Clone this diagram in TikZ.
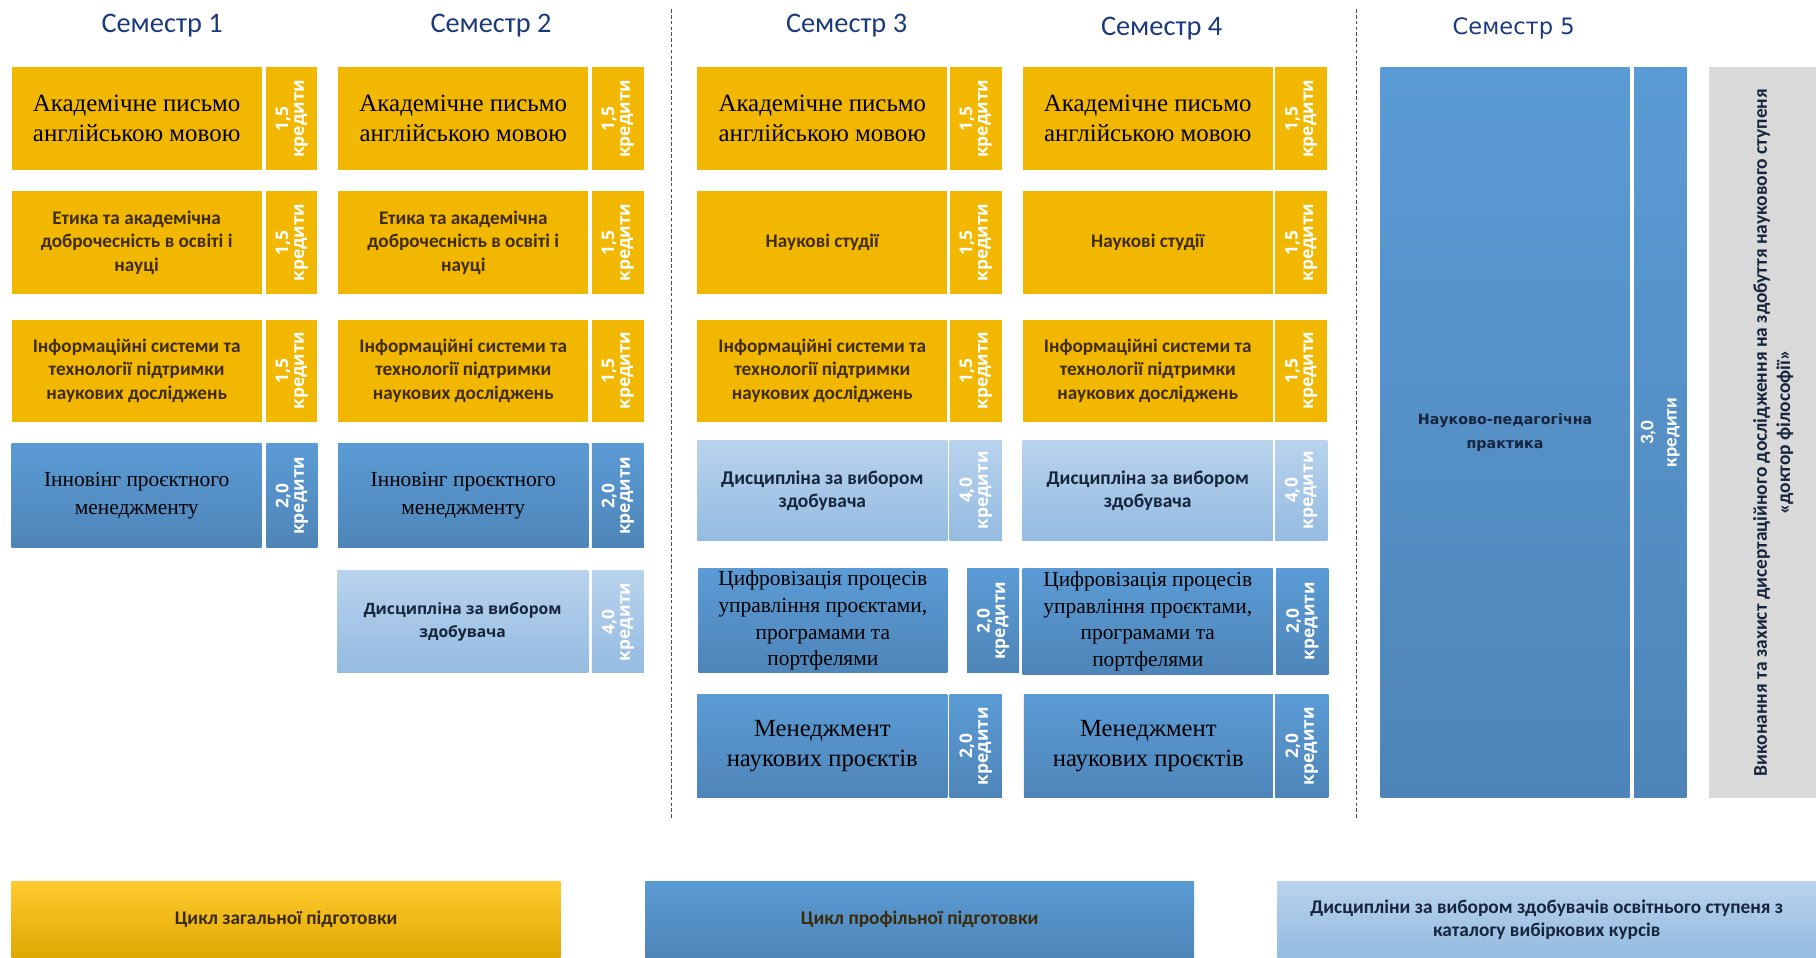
\documentclass[tikz,border=0pt]{standalone}
\usepackage{fontspec}
\setmainfont{Liberation Serif}
\newfontfamily\calfont{Carlito}
\newfontfamily\osfont{Open Sans}
\newfontfamily\dvfont{DejaVu Sans}
\definecolor{gold}{HTML}{F2B700}
\definecolor{goldtxt}{HTML}{3F2C00}
\definecolor{blueT}{HTML}{5B9BD5}
\definecolor{blueB}{HTML}{4E85B8}
\definecolor{ltT}{HTML}{B9D3ED}
\definecolor{ltB}{HTML}{94BBE1}
\definecolor{navy}{HTML}{1B3A7B}
\definecolor{navytxt}{HTML}{16243C}
\definecolor{greybox}{HTML}{D9D9D9}
\definecolor{legYT}{HTML}{FFCB2F}
\definecolor{legYB}{HTML}{DFA700}
\definecolor{legtxt}{HTML}{3A2A08}
\newcommand{\crsnode}[7]{\node[#2,minimum width=#5pt,minimum height=#6pt] (#1) at (#3,#4) {#7};}
\newcommand{\crdnode}[7]{\node[#2,minimum width=#6pt,minimum height=#5pt] (#1) at (#3,#4) {#7};}
\tikzset{
  boxbase/.style={inner sep=0pt, outer sep=0pt, align=center, draw=none},
  goldbox/.style={boxbase, fill=gold},
  bluebox/.style={boxbase, top color=blueT, bottom color=blueB},
  lbluebox/.style={boxbase, top color=ltT, bottom color=ltB},
  serifA/.style={font=\fontsize{21.5}{26}\selectfont, text=black},
  serifB/.style={font=\fontsize{18.5}{24}\selectfont, text=black},
  serifC/.style={font=\fontsize{18.5}{23}\selectfont, text=black},
  serifD/.style={font=\fontsize{21.3}{26}\selectfont, text=black},
  sansY/.style={font=\calfont\bfseries\fontsize{16.6}{20.5}\selectfont, text=goldtxt},
  sansL/.style={font=\osfont\bfseries\fontsize{13.5}{20}\selectfont, text=navytxt},
  sansLc/.style={font=\calfont\bfseries\fontsize{16.8}{20}\selectfont, text=navytxt},
  crbase/.style={boxbase, rotate=90, text=white, font=\osfont\bfseries\fontsize{15}{13.5}\selectfont},
  crgold/.style={crbase, fill=gold},
  crblue/.style={crbase, top color=blueT, bottom color=blueB},
  crlblue/.style={crbase, top color=ltT, bottom color=ltB},
  semtitle/.style={font=\calfont\fontsize{24.5}{28}\selectfont, text=navy, inner sep=0pt},
  legbox/.style={boxbase, font=\calfont\bfseries\fontsize{16.7}{20}\selectfont},
  sepline/.style={draw=black!70, line width=0.7pt, dash pattern=on 3pt off 2pt},
}
\begin{document}
\begin{tikzpicture}[x=1pt,y=-1pt]
\useasboundingbox (0,0) rectangle (1568,827);
% titles
\node[semtitle] (s1) at (140,22) {Семестр 1};
\node[semtitle] (s2) at (424,22) {Семестр 2};
\node[semtitle] (s3) at (731,22) {Семестр 3};
\node[semtitle] (s4) at (1003,25) {Семестр 4};
\node[semtitle, font=\dvfont\fontsize{19.5}{24}\selectfont] (s5) at (1307,25) {Семестр 5};
% separators
\coordinate (v1t) at (580,8); \coordinate (v1b) at (580,707);
\coordinate (v2t) at (1171,8); \coordinate (v2b) at (1171,707);
\draw[sepline] (v1t) -- (v1b);
\draw[sepline] (v2t) -- (v2b);
% ---------- Semester 1
\crsnode{a1}{goldbox,serifA}{118}{102.5}{216}{89}{Академічне письмо\\англійською мовою}
\crsnode{a2}{goldbox,sansY}{118}{209.5}{216}{89}{Етика та академічна\\доброчесність в освіті і\\науці}
\crsnode{a3}{goldbox,sansY}{118}{320}{216}{88}{Інформаційні системи та\\технології підтримки\\наукових досліджень}
\crsnode{a4}{bluebox,serifB}{118}{428}{216}{90}{Інновінг проєктного\\менеджменту}
\crdnode{a1c}{crgold}{252}{102.5}{44}{89}{1,5\\кредити}
\crdnode{a2c}{crgold}{252}{209.5}{44}{89}{1,5\\кредити}
\crdnode{a3c}{crgold}{252}{320}{44}{88}{1,5\\кредити}
\crdnode{a4c}{crblue}{252}{428}{44}{90}{2,0\\кредити}
% ---------- Semester 2
\crsnode{b1}{goldbox,serifA}{400}{102.5}{216}{89}{Академічне письмо\\англійською мовою}
\crsnode{b2}{goldbox,sansY}{400}{209.5}{216}{89}{Етика та академічна\\доброчесність в освіті і\\науці}
\crsnode{b3}{goldbox,sansY}{400}{320}{216}{88}{Інформаційні системи та\\технології підтримки\\наукових досліджень}
\crsnode{b4}{bluebox,serifB}{400}{428}{216}{90}{Інновінг проєктного\\менеджменту}
\crsnode{b5}{lbluebox,sansL}{399.5}{537}{217}{88}{Дисципліна за вибором\\здобувача}
\crdnode{b1c}{crgold}{533.5}{102.5}{45}{89}{1,5\\кредити}
\crdnode{b2c}{crgold}{533.5}{209.5}{45}{89}{1,5\\кредити}
\crdnode{b3c}{crgold}{533.5}{320}{45}{88}{1,5\\кредити}
\crdnode{b4c}{crblue}{533.5}{428}{45}{90}{2,0\\кредити}
\crdnode{b5c}{crlblue}{533.5}{537}{45}{88}{4,0\\кредити}
% ---------- Semester 3
\crsnode{c1}{goldbox,serifA}{710}{102.5}{216}{89}{Академічне письмо\\англійською мовою}
\crsnode{c2}{goldbox,sansY}{710}{209.5}{216}{89}{Наукові студії}
\crsnode{c3}{goldbox,sansY}{710}{320}{216}{88}{Інформаційні системи та\\технології підтримки\\наукових досліджень}
\crsnode{c4}{lbluebox,sansLc}{710}{423.5}{216}{87}{Дисципліна за вибором\\здобувача}
\crsnode{c5}{bluebox,serifC}{710.5}{536}{215}{90}{Цифровізація процесів\\управління проєктами,\\програмами та\\портфелями}
\crsnode{c6}{bluebox,serifD}{710}{644.5}{216}{89}{Менеджмент\\наукових проєктів}
\crdnode{c1c}{crgold}{842.5}{102.5}{45}{89}{1,5\\кредити}
\crdnode{c2c}{crgold}{842.5}{209.5}{45}{89}{1,5\\кредити}
\crdnode{c3c}{crgold}{842.5}{320}{45}{88}{1,5\\кредити}
\crdnode{c4c}{crlblue}{842.5}{423.5}{45}{87}{4,0\\кредити}
\crdnode{c5c}{crblue}{857.5}{536}{45}{90}{2,0\\кредити}
\crdnode{c6c}{crblue}{842.5}{644.5}{45}{89}{2,0\\кредити}
% ---------- Semester 4
\crsnode{d1}{goldbox,serifA}{991}{102.5}{216}{89}{Академічне письмо\\англійською мовою}
\crsnode{d2}{goldbox,sansY}{991}{209.5}{216}{89}{Наукові студії}
\crsnode{d3}{goldbox,sansY}{991}{320}{216}{88}{Інформаційні системи та\\технології підтримки\\наукових досліджень}
\crsnode{d4}{lbluebox,sansLc}{991}{423.5}{216}{87}{Дисципліна за вибором\\здобувача}
\crsnode{d5}{bluebox,serifC}{991}{536.5}{216}{91}{Цифровізація процесів\\управління проєктами,\\програмами та\\портфелями}
\crsnode{d6}{bluebox,serifD}{991.5}{644.5}{215}{89}{Менеджмент\\наукових проєктів}
\crdnode{d1c}{crgold}{1123.5}{102.5}{45}{89}{1,5\\кредити}
\crdnode{d2c}{crgold}{1123.5}{209.5}{45}{89}{1,5\\кредити}
\crdnode{d3c}{crgold}{1123.5}{320}{45}{88}{1,5\\кредити}
\crdnode{d4c}{crlblue}{1123.5}{423.5}{45}{87}{4,0\\кредити}
\crdnode{d5c}{crblue}{1124.5}{536.5}{45}{91}{2,0\\кредити}
\crdnode{d6c}{crblue}{1124}{644.5}{46}{89}{2,0\\кредити}
% ---------- Semester 5
\crsnode{e1}{bluebox,font=\dvfont\bfseries\fontsize{12.3}{21}\selectfont,text=navytxt}{1299.5}{373.5}{215}{631}{Науково-педагогічна\\практика}
\crdnode{e1c}{crblue,font=\calfont\bfseries\fontsize{16.5}{20}\selectfont}{1433.5}{373.5}{45}{631}{3,0\\кредити}
\node[boxbase, fill=greybox, rotate=90, minimum width=631pt, minimum height=110pt,
      text=navytxt, font=\calfont\bfseries\fontsize{16.8}{20}\selectfont] (g1) at (1531,373.5)
  {Виконання та захист дисертаційного дослідження на здобуття наукового ступеня\\«доктор філософії»};
% ---------- legend
\node[legbox, top color=legYT, bottom color=legYB, text=legtxt, minimum width=474pt, minimum height=66pt] (l1) at (247,794) {Цикл загальної підготовки};
\node[legbox, top color=blueT, bottom color=blueB, text=legtxt, minimum width=474pt, minimum height=66pt] (l2) at (794,794) {Цикл профільної підготовки};
\node[legbox, top color=ltT, bottom color=ltB, text=navytxt, minimum width=465pt, minimum height=66pt] (l3) at (1335.5,794) {Дисципліни за вибором здобувачів освітнього ступеня з\\каталогу вибіркових курсів};
\end{tikzpicture}
\end{document}
